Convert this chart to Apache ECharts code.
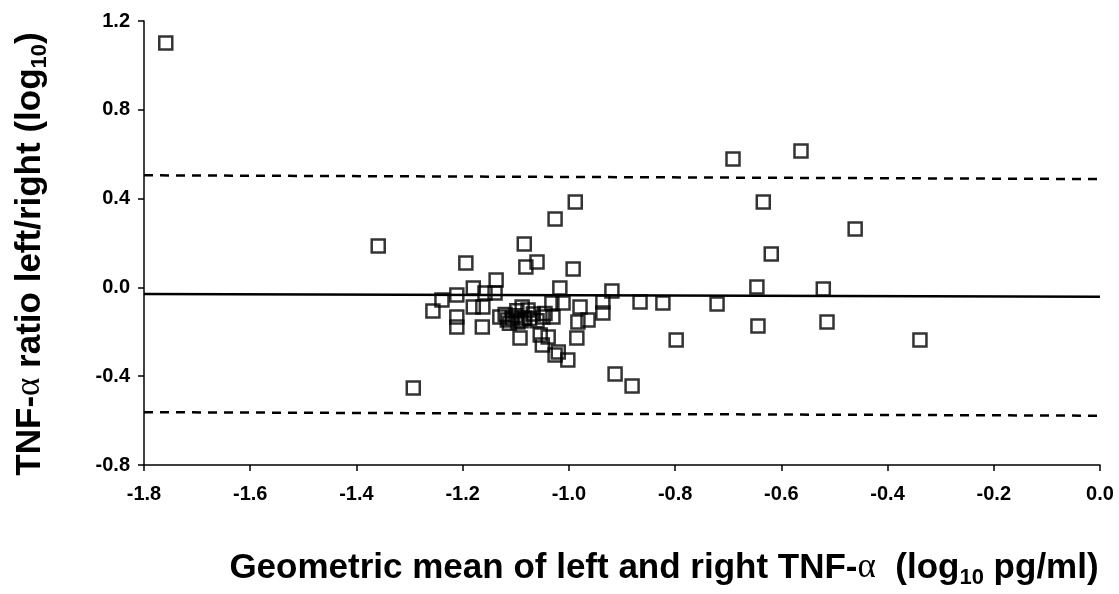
<!DOCTYPE html>
<html>
<head>
<meta charset="utf-8">
<script src="https://cdn.jsdelivr.net/npm/echarts@6/dist/echarts.min.js"></script>
<style>
  html, body { margin: 0; padding: 0; background: #fff; }
  #chart { width: 1119px; height: 594px; }
</style>
</head>
<body>
<div id="chart"></div>
<script>
// Geometric mean of left and right TNF-alpha (log10 pg/ml)
const geoMean = [
  -1.759, -1.359, -1.293, -1.256, -1.239, -1.211, -1.180, -1.137, -1.194, -1.158,
  -1.139, -1.180, -1.211, -1.211, -1.162, -1.163, -1.130, -1.116, -1.107, -1.096,
  -1.088, -1.083, -1.077, -1.067, -1.084, -1.081, -1.060, -1.026, -0.988, -0.992,
  -1.017, -1.032, -1.011, -1.030, -1.049, -0.979, -0.936, -0.936, -0.983, -0.964,
  -0.919, -1.092, -1.054, -1.039, -1.050, -0.985, -1.026, -1.020, -1.002, -0.913,
  -0.881, -0.866, -0.823, -0.721, -0.798, -0.691, -0.563, -0.634, -0.461, -0.619,
  -0.646, -0.521, -0.644, -0.514, -0.339,
  -1.120, -1.101, -1.090, -1.074, -1.060, -1.112, -1.098, -1.045
];
// Left/right ratio (log10)
const ratio = [
   1.101,  0.186, -0.453, -0.106, -0.057, -0.034, -0.003,  0.033,  0.110, -0.025,
  -0.025, -0.088, -0.133, -0.178, -0.088, -0.178, -0.133, -0.147, -0.138, -0.156,
  -0.088, -0.138, -0.102, -0.120,  0.195,  0.092,  0.114,  0.308,  0.385,  0.083,
  -0.003, -0.070, -0.070, -0.133, -0.133, -0.088, -0.066, -0.115, -0.156, -0.147,
  -0.016, -0.228, -0.214, -0.223, -0.259, -0.228, -0.305, -0.291, -0.327, -0.390,
  -0.444, -0.066, -0.070, -0.075, -0.237,  0.578,  0.614,  0.385,  0.263,  0.150,
   0.002, -0.007, -0.174, -0.156, -0.237,
  -0.122, -0.128, -0.150, -0.140, -0.150, -0.162, -0.105, -0.118
];
// Mean difference and limits of agreement (end points across the x range)
const meanLine  = [[-1.8, -0.030], [0, -0.042]];
const upperLine = [[-1.8,  0.505], [0,  0.488]];
const lowerLine = [[-1.8, -0.562], [0, -0.578]];

const xRange = { min: -1.8, max: 0, step: 0.2 };
const yRange = { min: -0.8, max: 1.2, step: 0.4 };

const points = geoMean.map((x, i) => [x, ratio[i]]);

const FONT = '"Liberation Sans", Arial, Helvetica, sans-serif';
const chart = echarts.init(document.getElementById('chart'));

const axisCommon = {
  axisLine: { show: true, onZero: false, lineStyle: { color: '#000', width: 1.5 } },
  axisTick: { show: true, inside: false, length: 6, lineStyle: { color: '#000', width: 1.5 } },
  splitLine: { show: false },
  axisLabel: {
    color: '#000', fontFamily: FONT, fontWeight: 'bold', fontSize: 20,
    formatter: v => (Math.abs(v) < 1e-9 ? 0 : v).toFixed(1)
  }
};

const titleRich = {
  b: { fontFamily: FONT, fontWeight: 'bold', fontSize: 35, fill: '#000', lineHeight: 42 },
  a: { fontFamily: '"Liberation Serif", serif', fontSize: 35, fill: '#000', lineHeight: 42 },
  s: { fontFamily: FONT, fontWeight: 'bold', fontSize: 22, fill: '#000', verticalAlign: 'bottom', lineHeight: 42 }
};

chart.setOption({
  animation: false,
  backgroundColor: '#fff',
  grid: { left: 144, right: 19, top: 21, bottom: 129 },
  xAxis: Object.assign({}, axisCommon, {
    type: 'value', min: xRange.min, max: xRange.max, interval: xRange.step,
    axisLabel: Object.assign({}, axisCommon.axisLabel, { margin: 19 })
  }),
  yAxis: Object.assign({}, axisCommon, {
    type: 'value', min: yRange.min, max: yRange.max, interval: yRange.step,
    axisLabel: Object.assign({}, axisCommon.axisLabel, { margin: 14 })
  }),
  series: [
    {
      type: 'line', data: meanLine, symbol: 'none',
      lineStyle: { color: '#000', width: 2.5 }, z: 2
    },
    {
      type: 'line', data: upperLine, symbol: 'none',
      lineStyle: { color: '#000', width: 2.5, type: [9, 7] }, z: 2
    },
    {
      type: 'line', data: lowerLine, symbol: 'none',
      lineStyle: { color: '#000', width: 2.5, type: [9, 7] }, z: 2
    },
    {
      type: 'scatter', data: points, symbol: 'rect', symbolSize: 13,
      itemStyle: { color: 'rgba(0,0,0,0)', borderColor: '#000', borderWidth: 2.5 },
      z: 3
    }
  ],
  graphic: [
    {
      type: 'text', x: 664, y: 568,
      style: {
        text: '{b|Geometric mean of left and right TNF-}{a|α}{b|  (log}{s|10}{b| pg/ml)}',
        align: 'center', verticalAlign: 'middle', fill: '#000',
        rich: titleRich
      }
    },
    {
      type: 'text', x: 30, y: 254, rotation: Math.PI / 2,
      style: {
        text: '{b|TNF-}{a|α}{b| ratio left/right (log}{s|10}{b|)}',
        align: 'center', verticalAlign: 'middle', fill: '#000',
        rich: titleRich
      }
    }
  ]
});
</script>
</body>
</html>
